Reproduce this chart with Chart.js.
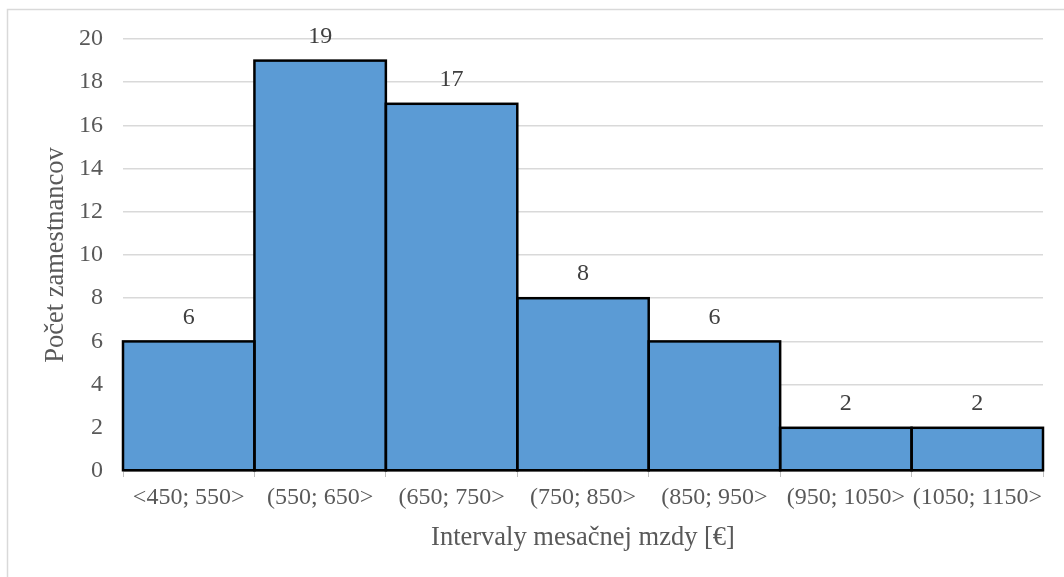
<!DOCTYPE html>
<html>
<head>
<meta charset="utf-8">
<script src="https://cdn.jsdelivr.net/npm/chart.js@4"></script>
<style>
  body { margin:0; background:#fff; }
  canvas { display:block; }
</style>
</head>
<body>
<canvas id="histChart" width="1064" height="577"></canvas>
<script>
const intervals = ['<450; 550>','(550; 650>','(650; 750>','(750; 850>','(850; 950>','(950; 1050>','(1050; 1150>'];
const counts = [6, 19, 17, 8, 6, 2, 2];
const yTicks = [0, 2, 4, 6, 8, 10, 12, 14, 16, 18, 20];

const serif = "'Liberation Serif', 'Times New Roman', serif";

// light frame around the chart (only top and left are visible in the picture)
const framePlugin = {
  id:'frame',
  beforeDraw(chart){
    const c = chart.ctx;
    c.save();
    c.fillStyle = '#fff';
    c.fillRect(0,0,chart.width,chart.height);
    c.strokeStyle = '#d9d9d9';
    c.lineWidth = 1.5;
    c.beginPath();
    c.moveTo(7.5, chart.height);
    c.lineTo(7.5, 9.5);
    c.lineTo(chart.width, 9.5);
    c.stroke();
    c.restore();
  }
};

// black outlines centred on bar edges, plus value labels on top
const barLabels = {
  id:'barLabels',
  afterDatasetsDraw(chart){
    const c = chart.ctx;
    const meta = chart.getDatasetMeta(0);
    c.save();
    c.strokeStyle = '#000';
    c.lineWidth = 2.5;
    meta.data.forEach(bar=>{
      const p = bar.getProps(['x','y','base','width'], true);
      c.strokeRect(p.x - p.width/2, p.y, p.width, p.base - p.y);
    });
    c.fillStyle = '#404040';
    c.font = '24px ' + serif;
    c.textAlign = 'center';
    c.textBaseline = 'middle';
    meta.data.forEach((bar,i)=>{
      const p = bar.getProps(['x','y'], true);
      c.fillText(String(counts[i]), p.x, p.y - 24);
    });
    c.restore();
  }
};

new Chart(document.getElementById('histChart').getContext('2d'), {
  type:'bar',
  data:{
    labels:intervals,
    datasets:[{
      data:counts,
      backgroundColor:'#5b9bd5',
      borderWidth:0,
      barPercentage:1,
      categoryPercentage:1,
      inflateAmount:0
    }]
  },
  options:{
    responsive:false,
    animation:false,
    layout:{ padding:{ top:39, right:21, bottom:0, left:0 } },
    plugins:{ legend:{display:false}, tooltip:{enabled:false} },
    scales:{
      x:{
        afterFit(scale){ scale.height = 106; },
        grid:{ offset:true, drawOnChartArea:false, color:'#bfbfbf', tickLength:6, lineWidth:1 },
        border:{ color:'#bfbfbf', width:1 },
        ticks:{
          color:'#595959', font:{ family:serif, size:24 },
          maxRotation:0, minRotation:0, autoSkip:false, padding:6
        },
        title:{
          display:true, text:'Intervaly mesačnej mzdy [€]',
          color:'#595959', font:{ family:serif, size:26.5 },
          padding:{ top:4, bottom:23 }
        }
      },
      y:{
        min:0, max:20,
        afterFit(scale){ scale.width = 123; },
        afterBuildTicks(scale){ scale.ticks = yTicks.map(v=>({value:v})); },
        grid:{ color:'#d9d9d9', lineWidth:1.5, drawTicks:false },
        border:{ display:false },
        ticks:{ color:'#595959', font:{ family:serif, size:24 }, padding:20 },
        title:{
          display:true, text:'Počet zamestnancov',
          color:'#595959', font:{ family:serif, size:26.5 },
          padding:{ top:40, bottom:0 }
        }
      }
    }
  },
  plugins:[framePlugin, barLabels]
});
</script>
</body>
</html>
